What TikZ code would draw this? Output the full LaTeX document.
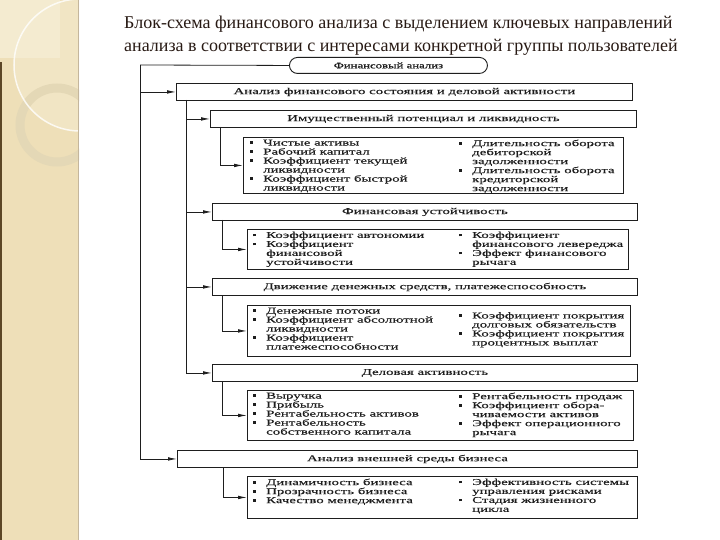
\documentclass[tikz,border=0pt]{standalone}
\usepackage{fontspec}
\setmainfont{Liberation Serif}
\newfontfamily\tfont{Liberation Serif}
\newfontfamily\dfont[FakeStretch=1.65,FakeBold=0.3]{Liberation Serif}
\newfontfamily\dfontb[FakeStretch=1.5,FakeBold=1.2]{Liberation Serif}
\usetikzlibrary{arrows.meta}
\definecolor{panel}{RGB}{238,223,184}
\definecolor{panellight}{RGB}{244,235,208}
\definecolor{ringc}{RGB}{228,216,182}
\definecolor{edgebrown}{RGB}{92,70,38}
\definecolor{edgegray}{RGB}{196,182,156}
\definecolor{titlec}{RGB}{40,26,20}
\definecolor{ink}{RGB}{30,30,30}
\newcommand\bu{\makebox[13pt][l]{\rule[1.6pt]{2.5pt}{2.5pt}}}
\newcommand\ind{\hspace*{13pt}}
\begin{document}
\begin{tikzpicture}[x=1pt,y=-1pt,
  hbox/.style={draw=ink, line width=0.9pt, fill=white, anchor=north west, inner sep=0pt,
    minimum height=17pt, font=\dfont\fontsize{9}{9}\selectfont, text=ink},
  cbox/.style={draw=ink, line width=0.9pt, fill=white, anchor=north west, inner sep=0pt},
  col/.style={anchor=north west, inner sep=0pt, align=left, font=\dfont\fontsize{9}{9}\selectfont, text=ink},
  conn/.style={line width=0.8pt, draw=ink},
  arr/.style={conn, -{Latex[length=9pt,width=3.6pt]}},
  ttl/.style={anchor=base west, inner sep=0pt, text=titlec, font=\tfont\fontsize{18}{20}\selectfont}]
\useasboundingbox (0,0) rectangle (720,540);
\fill[white] (0,0) rectangle (720,540);
% left panel
\fill[panel] (0,0) rectangle (79,540);
\begin{scope}
  \clip (0,0) rectangle (79,540);
  \fill[panellight] (0,0) rectangle (60,58);
  \fill[panellight, opacity=0.5] (80,65) circle (66);
  \draw[ringc, line width=9pt] (57,125) circle (37);
  \draw[white, opacity=0.8, line width=1.5pt] (80,65) circle (66);
\end{scope}
\fill[edgebrown] (0,62) rectangle (2,540);
\draw[edgegray, line width=1.2pt] (78.5,0) -- (78.5,540);
% title
\node[ttl] (title1) at (124,29) {Блок-схема финансового анализа с выделением ключевых направлений};
\node[ttl] (title2) at (124,52) {анализа в соответствии с интересами конкретной группы пользователей};
% top rounded box
\node[draw=ink, line width=0.9pt, rounded corners=8pt, fill=white, anchor=north west,
  minimum width=198pt, minimum height=16pt, inner sep=0pt,
  font=\dfontb\fontsize{8.5}{9}\selectfont, text=ink] (fa) at (289,57) {Финансовый анализ};
% level 1
\node[hbox, minimum width=456pt] (a) at (176,83) {Анализ финансового состояния и деловой активности};
\node[hbox, minimum width=460pt] (a2) at (177,450) {Анализ внешней среды бизнеса};
% level 2
\node[hbox, minimum width=426pt] (b1) at (210,110) {Имущественный потенциал и ликвидность};
\node[hbox, minimum width=425pt] (b2) at (212,203) {Финансовая устойчивость};
\node[hbox, minimum width=425pt] (b3) at (212,278) {Движение денежных средств, платежеспособность};
\node[hbox, minimum width=425pt] (b4) at (212,364) {Деловая активность};
% detail boxes
\node[cbox, minimum width=380pt, minimum height=56pt] (c1) at (243,137) {};
\node[col] (c1l) at (250,139.5) {\bu Чистые активы\\ \bu Рабочий капитал\\ \bu Коэффициент текущей\\ \ind ликвидности\\ \bu Коэффициент быстрой\\ \ind ликвидности};
\node[col] (c1r) at (459,139.5) {\bu Длительность оборота\\ \ind дебиторской\\ \ind задолженности\\ \bu Длительность оборота\\ \ind кредиторской\\ \ind задолженности};

\node[cbox, minimum width=381pt, minimum height=40pt] (c2) at (247,229) {};
\node[col] (c2l) at (253,231.5) {\bu Коэффициент автономии\\ \bu Коэффициент\\ \ind финансовой\\ \ind устойчивости};
\node[col] (c2r) at (459,231.5) {\bu Коэффициент\\ \ind финансового левереджа\\ \bu Эффект финансового\\ \ind рычага};

\node[cbox, minimum width=383pt, minimum height=51pt] (c3) at (247,305) {};
\node[col] (c3l) at (253,307.5) {\bu Денежные потоки\\ \bu Коэффициент абсолютной\\ \ind ликвидности\\ \bu Коэффициент\\ \ind платежеспособности};
\node[col] (c3r) at (459,312) {\bu Коэффициент покрытия\\ \ind долговых обязательств\\ \bu Коэффициент покрытия\\ \ind процентных выплат};

\node[cbox, minimum width=386pt, minimum height=50pt] (c4) at (247,390) {};
\node[col] (c4l) at (253,392.5) {\bu Выручка\\ \bu Прибыль\\ \bu Рентабельность активов\\ \bu Рентабельность\\ \ind собственного капитала};
\node[col] (c4r) at (459,392.5) {\bu Рентабельность продаж\\ \bu Коэффициент обора-\\ \ind чиваемости активов\\ \bu Эффект операционного\\ \ind рычага};

\node[cbox, minimum width=390pt, minimum height=42pt] (c5) at (247,476) {};
\node[col] (c5l) at (253,478.5) {\bu Динамичность бизнеса\\ \bu Прозрачность бизнеса\\ \bu Качество менеджмента};
\node[col] (c5r) at (459,478.5) {\bu Эффективность системы\\ \ind управления рисками\\ \bu Стадия жизненного\\ \ind цикла};
% connectors
\coordinate (tr) at (140,65);
\draw[conn] (fa.west) -- (tr);
\draw[arr] (tr) |- (a2.west);
\draw[arr] (tr |- a.west) -- (a.west);
\coordinate (av) at (186,100);
\draw[arr] (av) |- (b4.west);
\draw[arr] (av |- b1.west) -- (b1.west);
\draw[arr] (av |- b2.west) -- (b2.west);
\draw[arr] (av |- b3.west) -- (b3.west);
\coordinate (b1v) at (220,127);
\draw[arr] (b1v) |- (c1.west);
\coordinate (b2v) at (222,220);
\draw[arr] (b2v) |- (c2.west);
\coordinate (b3v) at (222,295);
\draw[arr] (b3v) |- (c3.west);
\coordinate (b4v) at (222,381);
\draw[arr] (b4v) |- (c4.west);
\coordinate (a2v) at (223,467);
\draw[arr] (a2v) |- (c5.west);
\end{tikzpicture}
\end{document}
